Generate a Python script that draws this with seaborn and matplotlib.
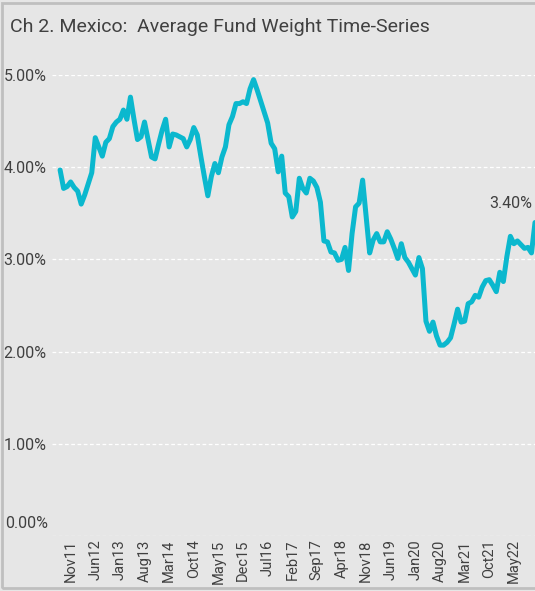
import numpy as np
import pandas as pd
import matplotlib.pyplot as plt
import seaborn as sns
from matplotlib.patches import Rectangle
from matplotlib.ticker import FuncFormatter, MultipleLocator

# Monthly average fund weight (%), Aug11 .. Nov22
weights = [
    3.97, 3.77, 3.79, 3.84, 3.78, 3.74, 3.60, 3.70, 3.82, 3.94,
    4.32, 4.22, 4.12, 4.27, 4.31, 4.44, 4.49, 4.52, 4.62, 4.52,
    4.76, 4.52, 4.30, 4.33, 4.49, 4.30, 4.11, 4.09, 4.25, 4.40,
    4.52, 4.22, 4.36, 4.35, 4.33, 4.31, 4.22, 4.30, 4.43, 4.35,
    4.12, 3.90, 3.69, 3.90, 4.04, 3.94, 4.11, 4.22, 4.46, 4.55,
    4.69, 4.69, 4.71, 4.69, 4.85, 4.95, 4.84, 4.72, 4.60, 4.48,
    4.26, 4.20, 3.95, 4.12, 3.72, 3.68, 3.46, 3.52, 3.88, 3.77,
    3.72, 3.88, 3.85, 3.78, 3.62, 3.20, 3.19, 3.08, 3.07, 2.99,
    3.00, 3.13, 2.88, 3.28, 3.57, 3.61, 3.86, 3.46, 3.07, 3.21,
    3.28, 3.19, 3.19, 3.30, 3.22, 3.12, 3.01, 3.17, 3.02, 2.97,
    2.90, 2.83, 3.02, 2.90, 2.33, 2.22, 2.32, 2.17, 2.07, 2.07,
    2.10, 2.15, 2.30, 2.46, 2.32, 2.33, 2.52, 2.54, 2.61, 2.59,
    2.70, 2.77, 2.78, 2.72, 2.65, 2.86, 2.76, 3.03, 3.25, 3.17,
    3.20, 3.16, 3.12, 3.13, 3.07, 3.40,
]
month_idx = list(range(len(weights)))

tick_pos = [3, 10, 17, 24, 31, 38, 45, 52, 59, 66, 73, 80, 87, 94, 101, 108, 115, 122, 129]
tick_labels = ['Nov11', 'Jun12', 'Jan13', 'Aug13', 'Mar14', 'Oct14', 'May15', 'Dec15',
               'Jul16', 'Feb17', 'Sep17', 'Apr18', 'Nov18', 'Jun19', 'Jan20', 'Aug20',
               'Mar21', 'Oct21', 'May22']
y_ticks = [1, 2, 3, 4, 5]

BG = '#E6E6E6'
TXT = '#404040'
LINE = '#0BB8CE'

sns.set_style('white', rc={'axes.facecolor': BG, 'figure.facecolor': BG})
plt.rcParams['font.family'] = ['Roboto', 'DejaVu Sans']

df = pd.DataFrame({'month': month_idx, 'weight': weights})

fig = plt.figure(figsize=(5.35, 5.91), dpi=100)
ax = fig.add_axes([52 / 535, 55 / 591, 483 / 535, 461 / 591])

sns.lineplot(data=df, x='month', y='weight', color=LINE, linewidth=3.6, ax=ax,
             clip_on=False, solid_joinstyle='round', solid_capstyle='round')

ax.set_ylim(0, 5)
ax.set_xlim(-2.3, 135)
ax.set_yticks(y_ticks)
ax.yaxis.set_major_formatter(FuncFormatter(lambda v, p: f'{v:.2f}%'))
ax.set_xticks(tick_pos)
ax.set_xticklabels(tick_labels, rotation=90)
ax.xaxis.set_minor_locator(MultipleLocator(1))

ax.grid(axis='y', color='white', linestyle=(0, (3, 2)), linewidth=0.9)
ax.axhline(0, color='white', linestyle=(0, (3, 2)), linewidth=0.9, zorder=0.5)
ax.set_axisbelow(True)
for s in ax.spines.values():
    s.set_visible(False)

ax.tick_params(axis='y', length=0, labelsize=11.5, labelcolor=TXT, pad=4)
ax.tick_params(axis='x', which='major', length=0, labelsize=10.5, labelcolor=TXT, pad=2.5)
ax.tick_params(axis='x', which='minor', length=3, color='white', width=0.8, direction='out')
ax.set_xlabel('')
ax.set_ylabel('')

# zero label sits a little above the axis line
ax.annotate('0.00%', xy=(0, 0), xycoords=('axes fraction', 'data'), xytext=(-2.9, 9),
            textcoords='offset points', ha='right', va='center', fontsize=11.5, color=TXT)

ax.annotate(f'{weights[-1]:.2f}%', xy=(month_idx[-1], weights[-1]), xytext=(-2, 8),
            textcoords='offset points', ha='right', va='bottom', fontsize=11.5, color=TXT)

fig.text(10 / 535, 1 - 27 / 591, 'Ch 2. Mexico:  Average Fund Weight Time-Series',
         fontsize=14, color=TXT, va='center', ha='left')

fig.patches.append(Rectangle((2 / 535, 3 / 591), 1.0, 1 - 6 / 591, transform=fig.transFigure,
                             fill=False, edgecolor='#BFBFBF', linewidth=2))

fig.savefig('out.png', dpi=100, facecolor=BG)
